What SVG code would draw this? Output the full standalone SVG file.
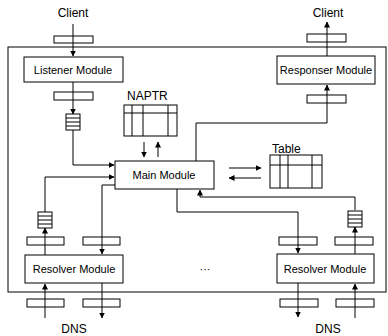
<svg xmlns="http://www.w3.org/2000/svg" width="388" height="336" viewBox="0 0 388 336">
<defs>
<style>
.box{fill:#fff;stroke:#000;stroke-width:1}
.sm{fill:none;stroke:#000;stroke-width:1}
.ln{fill:none;stroke:#000;stroke-width:1}
.t{font-family:"Liberation Sans",Arial,sans-serif;font-size:11px;fill:#000}
.tl{font-size:12px}
.tc{text-anchor:middle}
</style>
<marker id="ah" markerWidth="6" markerHeight="6" refX="5.5" refY="3" orient="auto" markerUnits="userSpaceOnUse">
<path d="M0,0 L6,3 L0,6 Z" fill="#000"/>
</marker>
<g id="queue">
<rect x="0" y="0" width="14" height="16" fill="#fff" stroke="#000"/>
<line x1="0" y1="4" x2="14" y2="4" stroke="#000"/>
<line x1="0" y1="8" x2="14" y2="8" stroke="#000"/>
<line x1="0" y1="12" x2="14" y2="12" stroke="#000"/>
</g>
</defs>
<rect width="388" height="336" fill="#fff"/>

<g id="frame">
<rect x="8" y="47" width="378" height="245" fill="none" stroke="#000"/>
</g>

<g id="connectors">
<line class="ln" x1="73" y1="24" x2="73" y2="56" marker-end="url(#ah)"/>
<line class="ln" x1="73" y1="82" x2="73" y2="114" marker-end="url(#ah)"/>
<polyline class="ln" points="73,130 73,165 114,165" marker-end="url(#ah)"/>
<polyline class="ln" points="45,212 45,177 114,177" marker-end="url(#ah)"/>
<polyline class="ln" points="115,185 102,185 102,254" marker-end="url(#ah)"/>
<line class="ln" x1="45" y1="255" x2="45" y2="228" marker-end="url(#ah)"/>
<polyline class="ln" points="196,161 196,123 327,123 327,85" marker-end="url(#ah)"/>
<line class="ln" x1="327" y1="56" x2="327" y2="22" marker-end="url(#ah)"/>
<line class="ln" x1="144" y1="142" x2="144" y2="157" marker-end="url(#ah)"/>
<line class="ln" x1="158" y1="157" x2="158" y2="142" marker-end="url(#ah)"/>
<line class="ln" x1="229" y1="168" x2="261" y2="168" marker-end="url(#ah)"/>
<line class="ln" x1="261" y1="178" x2="229" y2="178" marker-end="url(#ah)"/>
<polyline class="ln" points="177,189 177,212 298,212 298,253" marker-end="url(#ah)"/>
<polyline class="ln" points="355,210 355,197 200,197 200,190" marker-end="url(#ah)"/>
<line class="ln" x1="355" y1="254" x2="355" y2="227" marker-end="url(#ah)"/>
<line class="ln" x1="45" y1="318" x2="45" y2="284" marker-end="url(#ah)"/>
<line class="ln" x1="102" y1="283" x2="102" y2="318" marker-end="url(#ah)"/>
<line class="ln" x1="298" y1="283" x2="298" y2="317" marker-end="url(#ah)"/>
<line class="ln" x1="355" y1="318" x2="355" y2="284" marker-end="url(#ah)"/>
</g>

<g id="buffers">
<rect class="sm" x="54" y="36" width="39" height="7"/>
<rect class="sm" x="54" y="92" width="39" height="8"/>
<rect class="sm" x="307" y="34" width="39" height="8"/>
<rect class="sm" x="307" y="95" width="39" height="8"/>
<rect class="sm" x="27" y="237" width="37" height="8"/>
<rect class="sm" x="83" y="237" width="37" height="8"/>
<rect class="sm" x="279" y="237" width="38" height="8"/>
<rect class="sm" x="335" y="237" width="38" height="8"/>
<rect class="sm" x="27" y="299" width="37" height="8"/>
<rect class="sm" x="83" y="299" width="37" height="8"/>
<rect class="sm" x="280" y="299" width="38" height="8"/>
<rect class="sm" x="336" y="299" width="38" height="8"/>
</g>

<g id="queues">
<use href="#queue" x="66" y="114"/>
<use href="#queue" x="38" y="212"/>
<use href="#queue" x="348" y="211"/>
</g>

<g id="labels">
<text class="t tl tc" x="73" y="17">Client</text>
<text class="t tl tc" x="328" y="17">Client</text>
<text class="t tl tc" x="74" y="333">DNS</text>
<text class="t tl tc" x="328" y="333">DNS</text>
<text class="t tc" x="205" y="273">···</text>
</g>

<g id="listener">
<rect class="box" x="24" y="57" width="99" height="25"/>
<text class="t tc" x="73" y="74">Listener Module</text>
</g>

<g id="responser">
<rect class="box" x="277" y="56" width="98" height="28"/>
<text class="t tc" x="326" y="74">Responser Module</text>
</g>

<g id="main">
<rect class="box" x="115" y="161" width="99" height="28"/>
<text class="t tc" x="164" y="179">Main Module</text>
</g>

<g id="naptr">
<text class="t tl" x="127" y="100">NAPTR</text>
<rect class="box" x="124" y="105" width="53" height="31"/>
<line class="ln" x1="124" y1="113" x2="177" y2="113"/>
<line class="ln" x1="132" y1="105" x2="132" y2="136"/>
<line class="ln" x1="143" y1="105" x2="143" y2="136"/>
<line class="ln" x1="168" y1="105" x2="168" y2="136"/>
</g>

<g id="table">
<text class="t tl" x="272" y="153">Table</text>
<rect class="box" x="270" y="155" width="52" height="33"/>
<line class="ln" x1="270" y1="165" x2="322" y2="165"/>
<line class="ln" x1="280" y1="155" x2="280" y2="188"/>
<line class="ln" x1="288" y1="155" x2="288" y2="188"/>
<line class="ln" x1="312" y1="155" x2="312" y2="188"/>
</g>

<g id="resolver-left">
<rect class="box" x="25" y="255" width="98" height="28"/>
<text class="t tc" x="74" y="273">Resolver Module</text>
</g>

<g id="resolver-right">
<rect class="box" x="277" y="254" width="97" height="29"/>
<text class="t tc" x="325" y="273">Resolver Module</text>
</g>
</svg>
